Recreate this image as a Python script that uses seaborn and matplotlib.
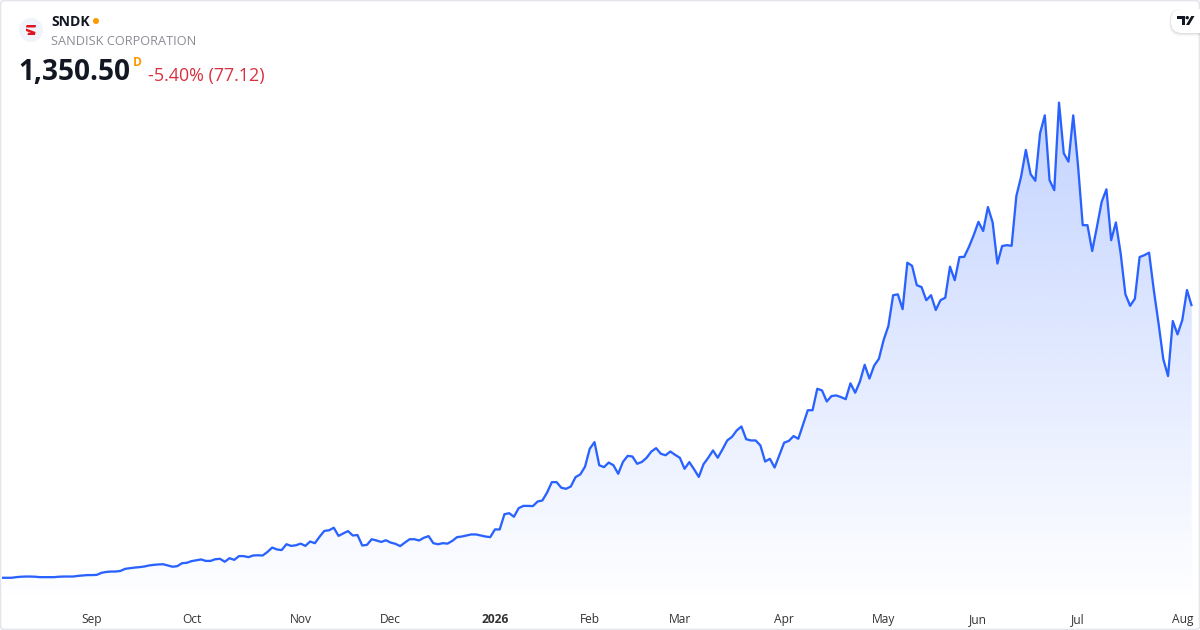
import numpy as np
import pandas as pd
import matplotlib
matplotlib.use("Agg")
import matplotlib.pyplot as plt
from matplotlib.patches import Circle, FancyBboxPatch, Polygon
import seaborn as sns

TICKER = "SNDK"
COMPANY = "SANDISK CORPORATION"
LAST_PRICE = "1,350.50"
CHANGE = "-5.40% (77.12)"
INTERVAL = "D"

HOLIDAYS = ["2025-09-01", "2025-11-27", "2025-12-25", "2026-01-01", "2026-01-19",
            "2026-02-16", "2026-04-03", "2026-05-25", "2026-06-19", "2026-07-03"]

prices = [
    47, 47, 47, 50, 52, 53, 53, 52, 50, 50,
    50, 50, 52, 53, 53, 53, 56, 58, 60, 60,
    61, 71, 75, 77, 77, 80, 90, 93, 96, 98,
    101, 106, 109, 111, 112, 106, 100, 103, 117, 119,
    127, 131, 135, 128, 128, 136, 138, 124, 141, 133,
    151, 151, 146, 154, 155, 154, 171, 192, 183, 180,
    208, 200, 203, 211, 200, 221, 213, 244, 272, 275,
    287, 248, 260, 271, 250, 252, 202, 205, 232, 226,
    219, 227, 216, 210, 199, 216, 232, 232, 226, 239,
    247, 213, 208, 213, 211, 224, 242, 245, 250, 255,
    255, 250, 245, 242, 279, 279, 352, 357, 340, 381,
    392, 392, 391, 413, 418, 456, 506, 506, 479, 474,
    485, 530, 543, 580, 666, 698, 587, 578, 600, 587,
    546, 603, 632, 629, 594, 603, 623, 653, 669, 642,
    635, 653, 637, 623, 570, 602, 568, 531, 592, 623,
    658, 623, 663, 706, 723, 754, 773, 712, 706, 706,
    682, 605, 618, 576, 635, 695, 704, 727, 714, 783,
    851, 851, 954, 946, 893, 919, 922, 914, 904, 980,
    935, 989, 1069, 1003, 1065, 1098, 1188, 1255, 1403, 1407,
    1336, 1559, 1544, 1451, 1442, 1379, 1403, 1332, 1379, 1391,
    1540, 1475, 1586, 1587, 1635, 1691, 1755, 1711, 1826, 1752,
    1555, 1639, 1643, 1640, 1879, 1972, 2100, 1984, 1952, 2180,
    2266, 1955, 1907, 2327, 2084, 2044, 2266, 2027, 1739, 1739,
    1615, 1731, 1851, 1911, 1667, 1752, 1604, 1408, 1352, 1386,
    1586, 1595, 1607, 1427, 1267, 1096, 1015, 1279, 1215, 1283,
    1427.62, 1350.50,
]

dates = pd.bdate_range("2025-08-05", periods=len(prices), freq="C", holidays=HOLIDAYS)
df = pd.DataFrame({"date": dates, "price": prices, "bar": np.arange(len(prices))})

month_key = df["date"].dt.to_period("M")
firsts = df[month_key != month_key.shift()].iloc[1:]
tick_pos = firsts["bar"].tolist()
tick_labels = [d.strftime("%b") if d.month != 1 else str(d.year) for d in firsts["date"]]

sns.set_theme(style="white")
plt.rcParams["font.family"] = ["Open Sans", "DejaVu Sans"]

LINE = "#2962FF"
fig = plt.figure(figsize=(12, 6.3), dpi=100, facecolor="white")
px = lambda v: v * 0.72

# main pane: 0-1200 px wide, 0-603 px tall
ax = fig.add_axes([0, 1 - 603 / 630, 1, 603 / 630])
sns.lineplot(data=df, x="bar", y="price", ax=ax, color=LINE, linewidth=1.65,
             solid_joinstyle="round", solid_capstyle="butt", zorder=3)

xlim = (-2 / 4.74, (1200 - 2) / 4.74)
ylim = (-74, 2819.5)

poly = ax.fill_between(df["bar"], ylim[0], df["price"], color="none", linewidth=0)
top = max(prices)
grad = np.zeros((256, 1, 4))
grad[..., :3] = matplotlib.colors.to_rgb(LINE)
grad[:, 0, 3] = np.linspace(0.28, 0.0, 256)
im = ax.imshow(grad, aspect="auto", origin="upper", interpolation="bilinear",
               extent=(df["bar"].iloc[0], df["bar"].iloc[-1], ylim[0], top), zorder=1)
path = poly.get_paths()[0]
im.set_clip_path(path, transform=ax.transData)

ax.set_xlim(*xlim)
ax.set_ylim(*ylim)
ax.set_xlabel("")
ax.set_ylabel("")
ax.set_yticks([])
ax.set_xticks(tick_pos)
ax.set_xticklabels(tick_labels)
ax.tick_params(axis="x", length=0, pad=7, labelsize=px(12), labelcolor="#333333")
for lab in ax.get_xticklabels():
    if lab.get_text().isdigit():
        lab.set_fontweight("bold")
for s in ax.spines.values():
    s.set_visible(False)
ax.patch.set_alpha(0)

# overlay in pixel coordinates for header and frame
ov = fig.add_axes([0, 0, 1, 1], facecolor="none")
ov.set_xlim(0, 1200)
ov.set_ylim(630, 0)
ov.axis("off")

ov.add_patch(FancyBboxPatch((0.5, 0.5), 1199, 629, boxstyle="round,pad=0,rounding_size=4",
                            fc="none", ec="#e3e5ea", lw=1.2))

# company logo
ov.add_patch(Circle((31, 30), 12, fc="#f0f3fa", ec="none"))
RED = "#e0141e"
ov.add_patch(Polygon([(26.5, 25), (36, 25), (35.5, 27.5), (26, 27.5)], fc=RED, ec="none"))
ov.add_patch(Polygon([(26, 28.5), (35.5, 32), (35, 35), (27.5, 35), (28, 32.8), (31, 32.8), (26, 31)],
                     fc=RED, ec="none"))

ov.text(51, 22, TICKER, fontsize=px(14), fontweight="bold", color="#131722", va="center", ha="left")
ov.add_patch(Circle((96, 21), 3, fc="#FF9800", ec="none"))
ov.text(51, 41.5, COMPANY, fontsize=px(12.7), color="#8a8d94", va="center", ha="left")
ov.text(18.5, 73, LAST_PRICE, fontsize=px(28), fontweight="bold", color="#131722", va="center", ha="left")
ov.text(133, 62.5, INTERVAL, fontsize=px(12), fontweight="bold", color="#FF9800", va="center", ha="left")
ov.text(148, 76, CHANGE, fontsize=px(17.85), color="#d8303f", va="center", ha="left")

# watermark badge
for off, a in ((3, 0.03), (2, 0.04), (1, 0.05)):
    ov.add_patch(FancyBboxPatch((1171 - off / 2, 9), 40 + off, 24 + off,
                                boxstyle="round,pad=0,rounding_size=11", fc="black", ec="none", alpha=a))
ov.add_patch(FancyBboxPatch((1171, 9), 40, 24, boxstyle="round,pad=0,rounding_size=11", fc="white", ec="none"))
ov.add_patch(Polygon([(1177.3, 16), (1185, 16), (1185, 25), (1181.7, 25), (1181.7, 19.3), (1177.3, 19.3)],
                     fc="#131722", ec="none"))
ov.add_patch(Circle((1187.2, 17.7), 1.7, fc="#131722", ec="none"))
ov.add_patch(Polygon([(1191.3, 16), (1194.5, 16), (1189.2, 25), (1186, 25)], fc="#131722", ec="none"))
ov.set_xlim(0, 1200)
ov.set_ylim(630, 0)

fig.savefig("out.png", dpi=100, facecolor="white")
